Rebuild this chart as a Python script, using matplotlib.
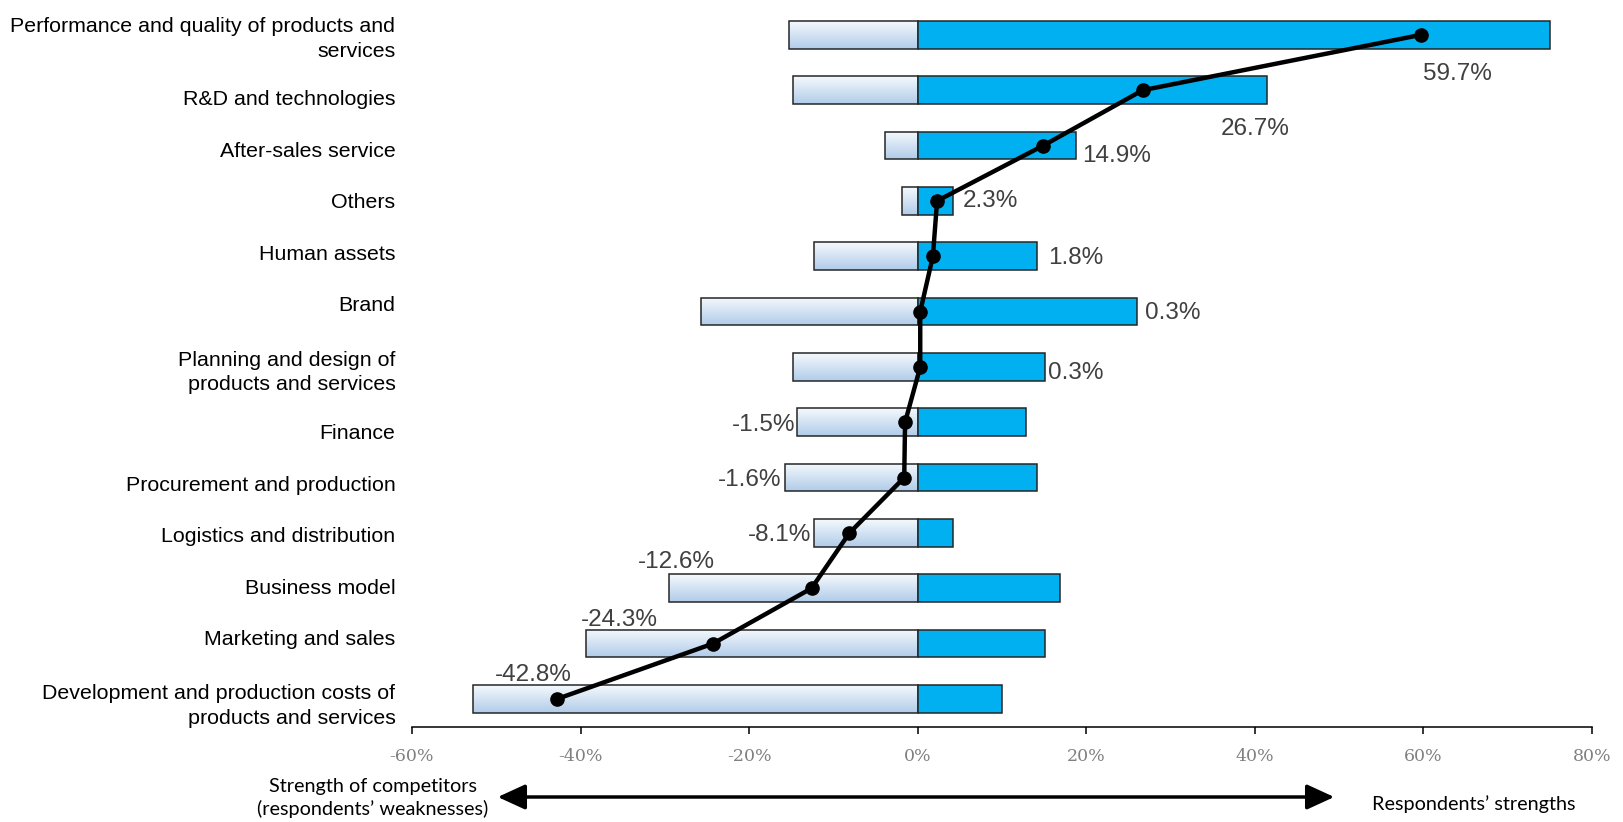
import matplotlib
matplotlib.use("Agg")
import matplotlib.pyplot as plt
import numpy as np
from matplotlib.colors import LinearSegmentedColormap

# ---------------- data ----------------
categories = [
    "Performance and quality of products and\nservices",
    "R&D and technologies",
    "After-sales service",
    "Others",
    "Human assets",
    "Brand",
    "Planning and design of\nproducts and services",
    "Finance",
    "Procurement and production",
    "Logistics and distribution",
    "Business model",
    "Marketing and sales",
    "Development and production costs of\nproducts and services",
]
weakness = [-15.3, -14.8, -3.9, -1.9, -12.3, -25.7, -14.8, -14.3, -15.8, -12.3, -29.5, -39.4, -52.8]
strength = [75.0, 41.5, 18.8, 4.2, 14.1, 26.0, 15.1, 12.8, 14.2, 4.2, 16.9, 15.1, 10.0]
net = [59.7, 26.7, 14.9, 2.3, 1.8, 0.3, 0.3, -1.5, -1.6, -8.1, -12.6, -24.3, -42.8]
xtick_values = [-60, -40, -20, 0, 20, 40, 60, 80]
left_caption = "Strength of competitors\n(respondents\u2019 weaknesses)"
right_caption = "Respondents\u2019 strengths"

# ---------------- layout / style ----------------
W, H = 1623, 822
label_offsets_px = [(37, -39), (112, -39), (73, -10), (53, 0), (143, -2), (253, -1),
                    (156, -6), (-141, -3), (-155, -2), (-70, -2), (-135, 26), (-94, 24), (-24, 24)]
# category labels are stacked like a text flow: each label's slot height depends on its line count
slot_single, slot_double, slot_top = 0.931, 1.373, -0.70

fig = plt.figure(figsize=(W / 100, H / 100), dpi=100)
ax = fig.add_axes([412 / W, 1 - 727 / H, (1592 - 412) / W, 727 / H])

y = np.arange(len(categories))
bar_h = 0.5
edge = "#262626"

left_bars = ax.barh(y, weakness, height=bar_h, left=0, facecolor="none",
                    edgecolor=edge, linewidth=1.1, zorder=3)
right_bars = ax.barh(y, strength, height=bar_h, left=0, facecolor="#00b0f0",
                     edgecolor=edge, linewidth=1.1, zorder=3)

grad_cmap = LinearSegmentedColormap.from_list("g", ["#f5f9fd", "#b1cce9"])
grad = np.linspace(0, 1, 64).reshape(-1, 1)
for p in left_bars.patches:
    x0 = p.get_x()
    x1 = x0 + p.get_width()
    y0 = p.get_y()
    y1 = y0 + p.get_height()
    ax.imshow(grad, cmap=grad_cmap, aspect="auto", origin="upper",
              extent=(min(x0, x1), max(x0, x1), y1, y0), zorder=2,
              interpolation="bilinear")

ax.plot(net, y, color="black", lw=3.2, marker="o", markersize=9.5, zorder=5,
        solid_joinstyle="round")

for v, yy, (dx, dy) in zip(net, y, label_offsets_px):
    ax.annotate(f"{v:.1f}%", xy=(v, yy), xytext=(dx, dy), textcoords="offset pixels",
                ha="center", va="center", fontsize=17.5, color="#404040",
                family="Liberation Sans", zorder=6)

# category label positions
label_pos = []
cursor = slot_top
for c in categories:
    h = slot_double if "\n" in c else slot_single
    label_pos.append(cursor + h / 2)
    cursor += h

ax.set_xlim(-60, 80)
ax.set_ylim(len(categories) - 1 + 0.506, -0.63)
ax.set_yticks(label_pos)
ax.set_yticklabels(categories, fontsize=15.4, family="Liberation Sans", color="black",
                   ha="right", linespacing=1.38)
ax.tick_params(axis="y", left=False, pad=8.4)
ax.set_xticks(xtick_values)
ax.set_xticklabels([f"{v}%" for v in xtick_values], fontsize=12.5, family="DejaVu Serif",
                   color="#808080")
ax.tick_params(axis="x", direction="out", length=5, width=1.1, color="black", pad=10)

for s in ["top", "right", "left"]:
    ax.spines[s].set_visible(False)
ax.spines["bottom"].set_linewidth(1.1)
ax.spines["bottom"].set_color("black")

fig.text(373 / W, 1 - 798 / H, left_caption, ha="center", va="center", fontsize=14.3,
         family="Lato", color="black", linespacing=1.3)
fig.text(1474 / W, 1 - 804 / H, right_caption, ha="center", va="center", fontsize=14.3,
         family="Lato", color="black")

fig.patches.append(matplotlib.patches.FancyArrowPatch(
    (495 / W, 1 - 797 / H), (1337 / W, 1 - 797 / H), transform=fig.transFigure,
    arrowstyle="<|-|>,head_length=1.2,head_width=0.55", mutation_scale=14,
    color="black", lw=2.5))

fig.savefig("out.png", dpi=100)
